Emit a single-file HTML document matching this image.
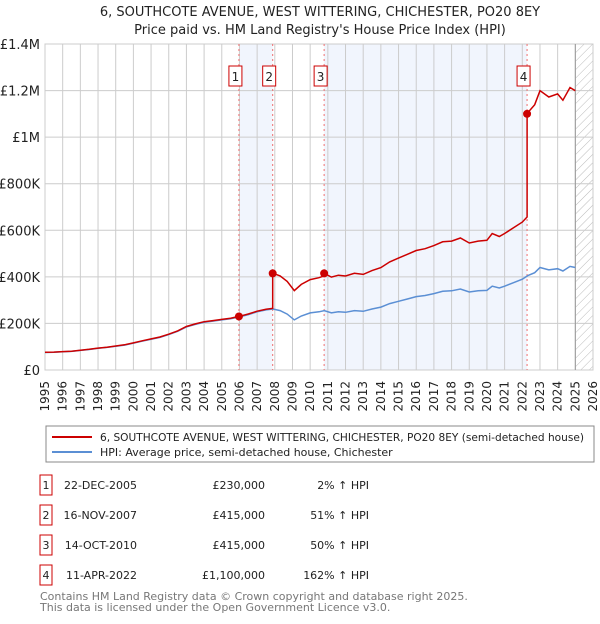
<!DOCTYPE html>
<html><head><meta charset="utf-8"><style>
body{margin:0;background:#fff;font-family:"DejaVu Sans","Liberation Sans",sans-serif;}
svg text{font-family:"DejaVu Sans","Liberation Sans",sans-serif;}
</style></head><body>
<svg id="chart" width="600" height="620" xmlns="http://www.w3.org/2000/svg">
<defs><pattern id="hatch" width="6" height="6" patternUnits="userSpaceOnUse" patternTransform="rotate(45)"><line x1="0" y1="0" x2="0" y2="6" stroke="#bbb" stroke-width="1"/></pattern></defs>
<text x="320" y="16" text-anchor="middle" font-size="13" fill="#222">6, SOUTHCOTE AVENUE, WEST WITTERING, CHICHESTER, PO20 8EY</text>
<text x="320" y="34" text-anchor="middle" font-size="13" fill="#222">Price paid vs. HM Land Registry's House Price Index (HPI)</text>
<g id="plot"></g>
<rect x="46" y="426" width="548" height="36" fill="#fff" stroke="#888"/>
<line x1="52" y1="437" x2="92" y2="437" stroke="#cc0000" stroke-width="2"/>
<text x="100" y="441" font-size="11" fill="#222" textLength="484" lengthAdjust="spacingAndGlyphs">6, SOUTHCOTE AVENUE, WEST WITTERING, CHICHESTER, PO20 8EY (semi-detached house)</text>
<line x1="52" y1="452" x2="92" y2="452" stroke="#5b8fd4" stroke-width="2"/>
<text x="100" y="456" font-size="11" fill="#222">HPI: Average price, semi-detached house, Chichester</text>
<g id="table" font-size="11" fill="#222"></g>
<text x="40" y="600" font-size="11" fill="#777">Contains HM Land Registry data © Crown copyright and database right 2025.</text>
<text x="40" y="611" font-size="11" fill="#777">This data is licensed under the Open Government Licence v3.0.</text>
</svg>
<script>
const hpiYears=[1995,1995.5,1996,1996.5,1997,1997.5,1998,1998.5,1999,1999.5,2000,2000.5,2001,2001.5,2002,2002.5,2003,2003.5,2004,2004.5,2005,2005.5,2006,2006.5,2007,2007.5,2007.9,2008.3,2008.7,2009.1,2009.5,2010,2010.5,2010.8,2011.2,2011.6,2012,2012.5,2013,2013.5,2014,2014.5,2015,2015.5,2016,2016.5,2017,2017.5,2018,2018.5,2019,2019.5,2020,2020.3,2020.7,2021,2021.5,2022,2022.3,2022.7,2023,2023.5,2024,2024.3,2024.7,2025];
const hpiValues=[75,76,78,80,84,88,93,97,102,107,115,124,132,140,152,166,185,196,205,210,215,220,228,238,250,258,262,255,240,215,232,245,250,255,245,250,248,255,252,262,270,285,295,305,315,320,328,338,340,348,335,340,342,360,352,360,375,390,405,418,440,430,435,425,445,440];
const saleLabels=["1","2","3","4"];
const saleDates=["22-DEC-2005","16-NOV-2007","14-OCT-2010","11-APR-2022"];
const saleYears=[2005.97,2007.88,2010.79,2022.27];
const salePrices=[230000,415000,415000,1100000];
const salePct=["2%","51%","50%","162%"];
const yTicks=[0,200000,400000,600000,800000,1000000,1200000,1400000];
const yTickLabels=["£0","£200K","£400K","£600K","£800K","£1M","£1.2M","£1.4M"];
const xTicks=[1995,1996,1997,1998,1999,2000,2001,2002,2003,2004,2005,2006,2007,2008,2009,2010,2011,2012,2013,2014,2015,2016,2017,2018,2019,2020,2021,2022,2023,2024,2025,2026];

const X0=45,X1=593,Y0=370,Y1=44;
const xs=y=>X0+(y-1995)/(2026-1995)*(X1-X0);
const ys=v=>Y0-v/1400000*(Y0-Y1);
const NS="http://www.w3.org/2000/svg";
const plot=document.getElementById('plot');
function mk(tag,attrs,parent){const e=document.createElementNS(NS,tag);for(const k in attrs)e.setAttribute(k,attrs[k]);(parent||plot).appendChild(e);return e;}
function hpiAt(t){for(let i=0;i<hpiYears.length-1;i++){if(t<=hpiYears[i+1]){const f=(t-hpiYears[i])/(hpiYears[i+1]-hpiYears[i]);return hpiValues[i]+f*(hpiValues[i+1]-hpiValues[i]);}}return hpiValues[hpiValues.length-1];}

let bg=mk('rect',{x:X0,y:Y1,width:X1-X0,height:Y0-Y1,fill:'#fff',stroke:'#ccc'});

[[0,1],[2,3]].forEach((p,i)=>{const r=mk('rect',{x:xs(saleYears[p[0]]),y:Y1,width:xs(saleYears[p[1]])-xs(saleYears[p[0]]),height:Y0-Y1,fill:'#eef3fc',opacity:0.8});
});
let h=mk('rect',{x:xs(2025),y:Y1,width:X1-xs(2025),height:Y0-Y1,fill:'url(#hatch)'});

xTicks.forEach(t=>{const l=mk('line',{x1:xs(t),x2:xs(t),y1:Y1,y2:Y0,stroke:'#ccc'});

const tx=mk('text',{x:0,y:0,'text-anchor':'end','font-size':12,fill:'#222',transform:`translate(${xs(t)+4},${Y0+11}) rotate(-90)`});tx.textContent=t;
});
yTicks.forEach((t,i)=>{const l=mk('line',{x1:X0,x2:X1,y1:ys(t),y2:ys(t),stroke:'#ccc'});

const tx=mk('text',{x:40,y:ys(t)+5,'text-anchor':'end','font-size':13,fill:'#222'});tx.textContent=yTickLabels[i];
});
let el=mk('line',{x1:xs(2025),x2:xs(2025),y1:Y1,y2:Y0,stroke:'#999'});

saleYears.forEach((s,i)=>{const l=mk('line',{x1:xs(s),x2:xs(s),y1:Y1,y2:Y0,stroke:'#f07070','stroke-dasharray':'2,3'});

const b=mk('rect',{x:xs(s)-10,y:66,width:13,height:20,fill:'#fff',stroke:'#cc0000'});

const t=mk('text',{x:xs(s)-3.5,y:81,'text-anchor':'middle','font-size':12,fill:'#222'});t.textContent=saleLabels[i];
});
let hp=hpiYears.map((y,i)=>xs(y).toFixed(1)+','+ys(hpiValues[i]*1000).toFixed(1)).join(' ');
let hl=mk('polyline',{points:hp,fill:'none',stroke:'#5b8fd4','stroke-width':1.5});

const ts=[...hpiYears,...saleYears].sort((a,b)=>a-b);
let pts=[];
ts.forEach(t=>{for(let i=1;i<saleYears.length;i++){if(Math.abs(t-saleYears[i])<1e-9){pts.push(xs(t).toFixed(1)+','+ys(salePrices[i-1]*hpiAt(t)/hpiAt(saleYears[i-1])).toFixed(1));}}
let k=0;for(let i=0;i<saleYears.length;i++)if(t>=saleYears[i]-1e-9)k=i;
pts.push(xs(t).toFixed(1)+','+ys(salePrices[k]*hpiAt(t)/hpiAt(saleYears[k])).toFixed(1));});
let pl=mk('polyline',{points:pts.join(' '),fill:'none',stroke:'#cc0000','stroke-width':1.5});

saleYears.forEach((s,i)=>{const c=mk('circle',{cx:xs(s),cy:ys(salePrices[i]),r:4,fill:'#cc0000'});
});
const tb=document.getElementById('table');
saleLabels.forEach((s,i)=>{const y=487+i*30;
const b=mk('rect',{x:40,y:y-12,width:12,height:20,fill:'#fff',stroke:'#cc0000'},tb);

const a=mk('text',{x:46,y:y+2,'text-anchor':'middle'},tb);a.textContent=s;

const d=mk('text',{x:137,y:y+2,'text-anchor':'end'},tb);d.textContent=saleDates[i];

const p=mk('text',{x:265,y:y+2,'text-anchor':'end'},tb);p.textContent='£'+salePrices[i].toLocaleString('en-GB');

const q=mk('text',{x:369,y:y+2,'text-anchor':'end'},tb);q.textContent=salePct[i]+' ↑ HPI';
});
</script>
</body></html>
